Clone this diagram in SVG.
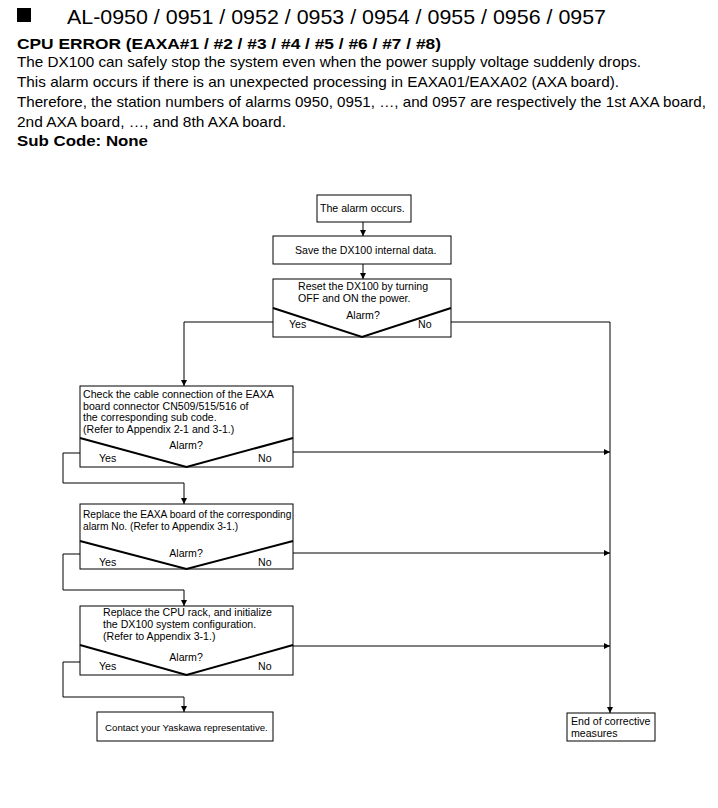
<svg xmlns="http://www.w3.org/2000/svg" width="718" height="808" viewBox="0 0 718 808">
<style>
.t{font-family:"Liberation Sans",Arial,sans-serif;fill:#000}
.h{font-size:14.5px}
.b{font-weight:bold}
.f{font-size:10.6px}
.box{fill:#fff;stroke:#000;stroke-width:1}
.dia{fill:none;stroke:#000;stroke-width:2}
.ln{fill:none;stroke:#000;stroke-width:1}
</style>
<defs>
<marker id="ar" markerWidth="6" markerHeight="6" refX="6" refY="3" orient="auto" markerUnits="userSpaceOnUse">
<path d="M0,0 L6,3 L0,6 Z" fill="#000"/>
</marker>
</defs>
<rect width="718" height="808" fill="#fff"/>
<g id="header">
<rect x="17" y="8" width="14" height="14" fill="#000"/>
<text class="t" x="67" y="24" font-size="21" textLength="539" lengthAdjust="spacingAndGlyphs">AL-0950 / 0951 / 0952 / 0953 / 0954 / 0955 / 0956 / 0957</text>
<text class="t b" x="17" y="49" font-size="15" textLength="424" lengthAdjust="spacingAndGlyphs">CPU ERROR (EAXA#1 / #2 / #3 / #4 / #5 / #6 / #7 / #8)</text>
<text class="t h" x="17" y="67" textLength="624" lengthAdjust="spacingAndGlyphs">The DX100 can safely stop the system even when the power supply voltage suddenly drops.</text>
<text class="t h" x="17" y="87" textLength="602" lengthAdjust="spacingAndGlyphs">This alarm occurs if there is an unexpected processing in EAXA01/EAXA02 (AXA board).</text>
<text class="t h" x="17" y="107" textLength="689" lengthAdjust="spacingAndGlyphs">Therefore, the station numbers of alarms 0950, 0951, …, and 0957 are respectively the 1st AXA board,</text>
<text class="t h" x="17" y="127" textLength="269" lengthAdjust="spacingAndGlyphs">2nd AXA board, …, and 8th AXA board.</text>
<text class="t b" x="17" y="146" font-size="15" textLength="131" lengthAdjust="spacingAndGlyphs">Sub Code: None</text>
</g>
<g id="connectors">
<line class="ln" x1="363" y1="222" x2="363" y2="236" marker-end="url(#ar)"/>
<line class="ln" x1="363" y1="264" x2="363" y2="279" marker-end="url(#ar)"/>
<polyline class="ln" points="273,322 184,322 184,386" marker-end="url(#ar)"/>
<polyline class="ln" points="451,322 610,322 610,713" marker-end="url(#ar)"/>
<line class="ln" x1="293" y1="452" x2="610" y2="452" marker-end="url(#ar)"/>
<polyline class="ln" points="80,453 63,453 63,483 184,483 184,504" marker-end="url(#ar)"/>
<line class="ln" x1="293" y1="553" x2="610" y2="553" marker-end="url(#ar)"/>
<polyline class="ln" points="80,554 63,554 63,590 184,590 184,606" marker-end="url(#ar)"/>
<line class="ln" x1="293" y1="646" x2="610" y2="646" marker-end="url(#ar)"/>
<polyline class="ln" points="80,662 63,662 63,697 184,697 184,712" marker-end="url(#ar)"/>
</g>
<g id="n1">
<rect class="box" x="317" y="195" width="94" height="27"/>
<text class="t f" x="320" y="212">The alarm occurs.</text>
</g>
<g id="n2">
<rect class="box" x="273" y="236" width="178" height="28"/>
<text class="t f" x="295" y="254">Save the DX100 internal data.</text>
</g>
<g id="n3">
<rect class="box" x="273" y="279" width="178" height="58"/>
<polyline class="dia" points="273,308 362,337 451,308"/>
<text class="t f" x="298" y="290">Reset the DX100 by turning</text>
<text class="t f" x="298" y="302">OFF and ON the power.</text>
<text class="t f" x="363" y="319" text-anchor="middle">Alarm?</text>
<text class="t f" x="289" y="328">Yes</text>
<text class="t f" x="418" y="328">No</text>
</g>
<g id="n4">
<rect class="box" x="80" y="386" width="213" height="81"/>
<polyline class="dia" points="80,438 186.5,467 293,438"/>
<text class="t f" x="83" y="398">Check the cable connection of the EAXA</text>
<text class="t f" x="83" y="409.5">board connector CN509/515/516 of</text>
<text class="t f" x="83" y="421">the corresponding sub code.</text>
<text class="t f" x="83" y="432.5">(Refer to Appendix 2-1 and 3-1.)</text>
<text class="t f" x="186" y="449" text-anchor="middle">Alarm?</text>
<text class="t f" x="99" y="462">Yes</text>
<text class="t f" x="258" y="462">No</text>
</g>
<g id="n5">
<rect class="box" x="80" y="504" width="213" height="65"/>
<polyline class="dia" points="80,541 186.5,569 293,541"/>
<text class="t f" x="83" y="518" style="font-size:10.2px">Replace the EAXA board of the corresponding</text>
<text class="t f" x="83" y="529.5" style="font-size:10.2px">alarm No. (Refer to Appendix 3-1.)</text>
<text class="t f" x="186" y="557" text-anchor="middle">Alarm?</text>
<text class="t f" x="99" y="566">Yes</text>
<text class="t f" x="258" y="566">No</text>
</g>
<g id="n6">
<rect class="box" x="80" y="606" width="213" height="69"/>
<polyline class="dia" points="80,645 186.5,675 293,645"/>
<text class="t f" x="103" y="616">Replace the CPU rack, and initialize</text>
<text class="t f" x="103" y="628">the DX100 system configuration.</text>
<text class="t f" x="103" y="640">(Refer to Appendix 3-1.)</text>
<text class="t f" x="186" y="661" text-anchor="middle">Alarm?</text>
<text class="t f" x="99" y="670">Yes</text>
<text class="t f" x="258" y="670">No</text>
</g>
<g id="n7">
<rect class="box" x="97" y="712" width="176" height="29"/>
<text class="t f" x="105" y="731" style="font-size:9.7px">Contact your Yaskawa representative.</text>
</g>
<g id="n8">
<rect class="box" x="567" y="713" width="88" height="28"/>
<text class="t f" x="571" y="725">End of corrective</text>
<text class="t f" x="571" y="737">measures</text>
</g>
</svg>
